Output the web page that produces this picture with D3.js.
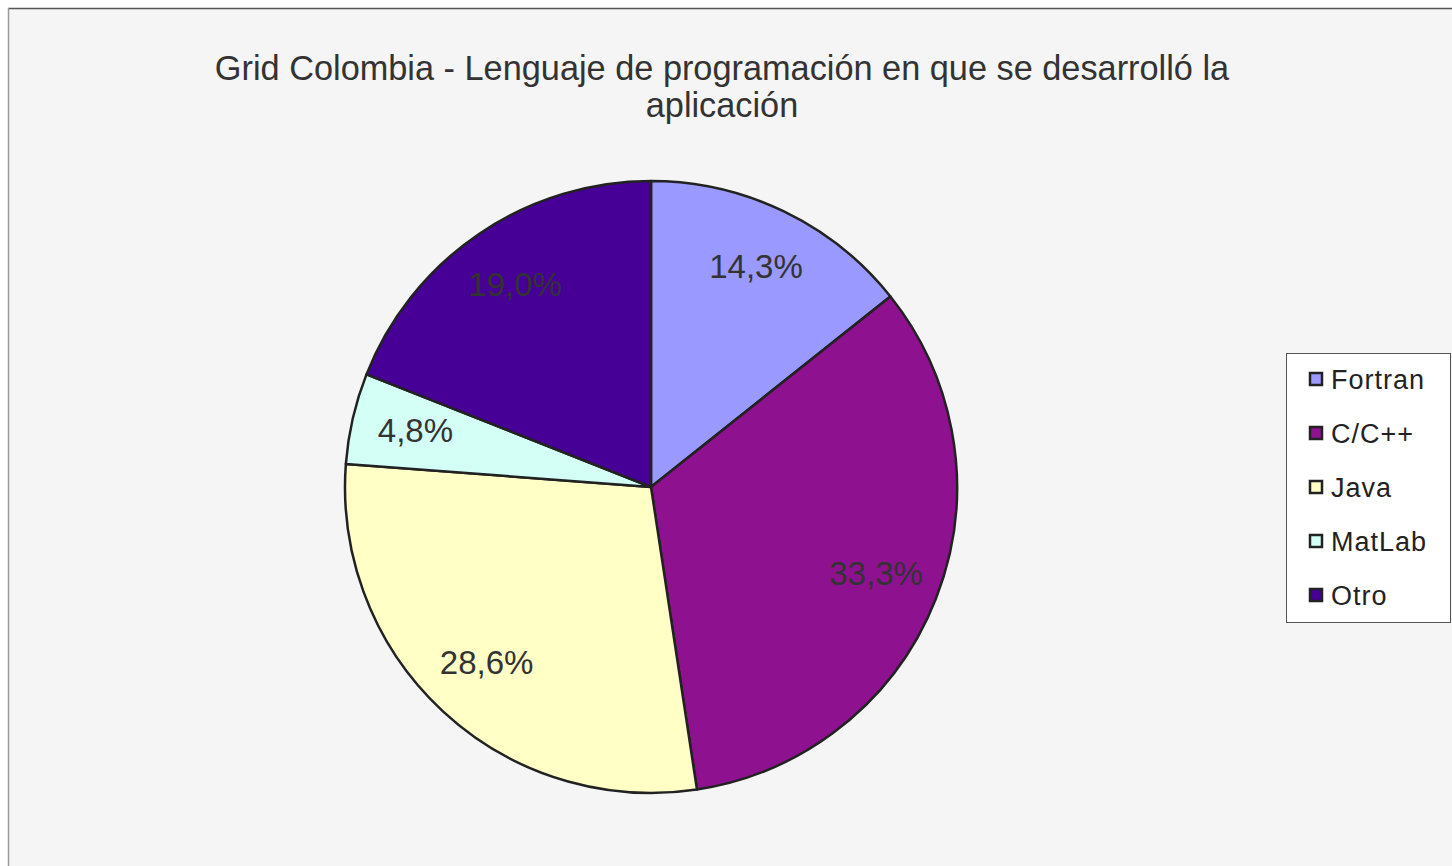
<!DOCTYPE html>
<html>
<head>
<meta charset="utf-8">
<script src="https://cdn.jsdelivr.net/npm/d3@7"></script>
<style>
  html, body { margin: 0; padding: 0; background: #ffffff; }
  svg { display: block; }
</style>
</head>
<body>
<svg id="chart" width="1452" height="866"></svg>
<script>
const categories = ["Fortran", "C/C++", "Java", "MatLab", "Otro"];
const values = [14.3, 33.3, 28.6, 4.8, 19.0];
const labels = ["14,3%", "33,3%", "28,6%", "4,8%", "19,0%"];
const colors = ["#9999FF", "#8E1190", "#FFFFC6", "#D4FFF7", "#460096"];
const titleLines = ["Grid Colombia - Lenguaje de programación en que se desarrolló la", "aplicación"];

const svg = d3.select("#chart");
const W = 1452, H = 866;

// chart area background + border
svg.append("rect").attr("x", 8).attr("y", 8).attr("width", W).attr("height", H)
  .attr("fill", "#F4F5F4");
svg.append("line").attr("x1", 8).attr("y1", 8.5).attr("x2", W).attr("y2", 8.5)
  .attr("stroke", "#555").attr("stroke-width", 1.5);
svg.append("line").attr("x1", 8.5).attr("y1", 8).attr("x2", 8.5).attr("y2", H)
  .attr("stroke", "#999").attr("stroke-width", 1.5);

// title
const title = svg.append("text")
  .attr("x", 722).attr("y", 80)
  .attr("text-anchor", "middle")
  .attr("font-family", "Liberation Sans, Arial, sans-serif")
  .attr("font-size", 34.3)
  .attr("fill", "#333");
titleLines.forEach((t, i) => {
  title.append("tspan").attr("x", 722).attr("dy", i === 0 ? 0 : 37).text(t);
});

// pie
const cx = 651, cy = 487, r = 306;
const pie = d3.pie().sort(null).value(d => d.v);
const data = pie(categories.map((c, i) => ({ c, v: values[i], l: labels[i], col: colors[i] })));
const arc = d3.arc().innerRadius(0).outerRadius(r);
const labelArc = d3.arc().innerRadius(r * 0.79).outerRadius(r * 0.79);

const g = svg.append("g").attr("transform", `translate(${cx},${cy})`);
g.selectAll("path.slice").data(data).enter().append("path")
  .attr("class", "slice")
  .attr("d", arc)
  .attr("fill", d => d.data.col)
  .attr("stroke", "#222")
  .attr("stroke-width", 2.5)
  .attr("stroke-linejoin", "round");

g.selectAll("text.lbl").data(data).enter().append("text")
  .attr("class", "lbl")
  .attr("transform", d => `translate(${labelArc.centroid(d)})`)
  .attr("text-anchor", "middle")
  .attr("dy", "0.28em")
  .attr("font-family", "Liberation Sans, Arial, sans-serif")
  .attr("font-size", 33)
  .attr("fill", "#333")
  .text(d => d.data.l);

// legend
const lg = svg.append("g");
lg.append("rect").attr("x", 1286.5).attr("y", 353.5).attr("width", 164).attr("height", 269)
  .attr("fill", "#ffffff").attr("stroke", "#555").attr("stroke-width", 1);
const ly = d3.scalePoint().domain(categories).range([379, 595]);
const items = lg.selectAll("g.item").data(categories).enter().append("g").attr("class", "item");
items.append("rect")
  .attr("x", 1310).attr("y", d => ly(d) - 6)
  .attr("width", 12).attr("height", 12)
  .attr("fill", (d, i) => colors[i])
  .attr("stroke", "#222").attr("stroke-width", 2.5);
items.append("text")
  .attr("x", 1331).attr("y", d => ly(d) + 10)
  .attr("font-family", "Liberation Sans, Arial, sans-serif")
  .attr("font-size", 27)
  .attr("letter-spacing", 1)
  .attr("fill", "#222")
  .text(d => d);
</script>
</body>
</html>
